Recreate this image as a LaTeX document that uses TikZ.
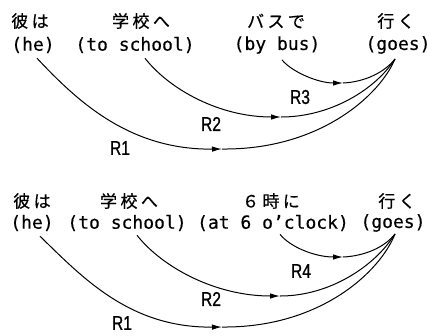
\documentclass[tikz,border=0pt]{standalone}
\usepackage{fontspec}
\usetikzlibrary{arrows.meta}
\newfontfamily\jpfont[LetterSpace=20,FakeBold=0.6]{Noto Sans CJK JP}
\newfontfamily\enfont[FakeBold=0.4]{DejaVu Sans Mono}
\newfontfamily\labfont[FakeStretch=0.78,FakeBold=0.8]{Liberation Sans}
\tikzset{
  jp/.style={inner sep=0pt, font=\jpfont\fontsize{17}{17}\selectfont},
  en/.style={inner sep=0pt, font=\enfont\fontsize{18}{18}\selectfont},
  lab/.style={inner sep=0pt, font=\labfont\fontsize{20}{20}\selectfont},
  rel/.style={line width=1pt, -{Latex[length=10pt,width=5.5pt]}},
  link/.style={line width=1pt}
}
\begin{document}
\begin{tikzpicture}[x=1pt,y=-1pt]
\useasboundingbox (0,0) rectangle (435,335);
% ---------- top sentence ----------
\node[jp] (j1) at (30,21) {彼は};
\node[en] (e1) at (33,45) {(he)};
\node[jp] (j2) at (141,21) {学校へ};
\node[en] (e2) at (135,45) {(to school)};
\node[jp] (j3) at (276,21) {バスで};
\node[en] (e3) at (277,45) {(by bus)};
\node[jp] (j4) at (396,21) {行く};
\node[en] (e4) at (398,45) {(goes)};
\coordinate (m1) at (222,149);
\coordinate (m2) at (281,117);
\coordinate (m3) at (343,83);
\draw[rel] ([shift={(4,5)}]e1.south) .. controls (78,102) and (130,150) .. (m1);
\draw[link] (m1) .. controls (320,150) and (380,95) .. ([shift={(-3,5)}]e4.south);
\draw[rel] ([shift={(10,5)}]e2.south) .. controls (170,90) and (220,117) .. (m2);
\draw[link] (m2) .. controls (330,117) and (375,90) .. ([shift={(-3,5)}]e4.south);
\draw[rel] ([shift={(5,6)}]e3.south) .. controls (292,72) and (318,83) .. (m3);
\draw[link] (m3) .. controls (365,82) and (385,72) .. ([shift={(-3,5)}]e4.south);
\node[lab] (r1) at (120,148) {R1};
\node[lab] (r2) at (211,124) {R2};
\node[lab] (r3) at (300,97) {R3};
% ---------- bottom sentence ----------
\node[jp] (k1) at (32,201) {彼は};
\node[en] (f1) at (32,223) {(he)};
\node[jp] (k2) at (129,201) {学校へ};
\node[en] (f2) at (127,223) {(to school)};
\node[jp] (k3) at (271,201) {６時に};
\node[en] (f3) at (273,223) {(at 6 o’clock)};
\node[jp] (k4) at (397,201) {行く};
\node[en] (f4) at (393,223) {(goes)};
\coordinate (n1) at (222,327);
\coordinate (n2) at (280,296);
\coordinate (n4) at (343,257);
\draw[rel] ([shift={(8,5)}]f1.south) .. controls (83,278) and (130,328) .. (n1);
\draw[link] (n1) .. controls (320,328) and (380,272) .. ([shift={(2,2)}]f4.south);
\draw[rel] ([shift={(10,4)}]f2.south) .. controls (162,267) and (215,296) .. (n2);
\draw[link] (n2) .. controls (330,296) and (375,266) .. ([shift={(2,2)}]f4.south);
\draw[rel] ([shift={(7,3)}]f3.south) .. controls (290,247) and (315,257) .. (n4);
\draw[link] (n4) .. controls (365,256) and (385,247) .. ([shift={(2,2)}]f4.south);
\node[lab] (s1) at (122,323) {R1};
\node[lab] (s2) at (211,299) {R2};
\node[lab] (s4) at (301,271) {R4};
\end{tikzpicture}
\end{document}
